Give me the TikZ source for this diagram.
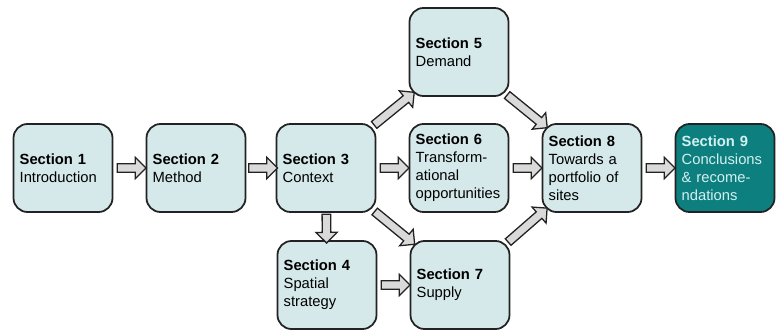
\documentclass[tikz,border=0pt]{standalone}
\usepackage{fontspec}
\setmainfont{Liberation Sans}
\usetikzlibrary{shapes.arrows}
\definecolor{boxfill}{HTML}{D5E8EA}
\definecolor{tealfill}{HTML}{0E7F7F}
\definecolor{tealtext}{HTML}{D2F0EF}
\definecolor{arrowfill}{HTML}{DADADA}
\definecolor{edge}{HTML}{222222}
\begin{document}
\begin{tikzpicture}[x=0.03cm, y=-0.03cm,
  section/.style={draw=edge, line width=1.5pt, fill=boxfill, rounded corners=0.42cm,
    minimum width=2.97cm, minimum height=2.64cm, inner xsep=0.15cm,
    text width=2.6cm, align=left, font=\fontsize{12.6}{15.3}\selectfont},
  lastsection/.style={section, fill=tealfill, text=tealtext},
  blockarrow/.style={single arrow, draw=edge, line width=1.1pt, fill=arrowfill,
    inner sep=0pt, text height=0.22cm, text depth=0pt, single arrow head extend=0.19cm,
    minimum height=0.86cm, sloped},
  longarrow/.style={blockarrow, minimum height=1.55cm}]
% Fix the page size
\useasboundingbox (0, 0) rectangle (780, 329);

% Draw the sections
\node[section] (s1) at (63, 168) {\textbf{Section 1}\\Introduction};
\node[section] (s2) at (196, 168) {\textbf{Section 2}\\Method};
\node[section] (s3) at (326, 168) {\textbf{Section 3}\\Context};
\node[section] (s4) at (327, 285) {\textbf{Section 4}\\Spatial\\strategy};
\node[section] (s5) at (459, 52) {\textbf{Section 5}\\Demand};
\node[section] (s6) at (459, 168) {\textbf{Section 6}\\Transform-\\ational\\opportunities};
\node[section] (s7) at (460, 285) {\textbf{Section 7}\\Supply};
\node[section] (s8) at (592, 168) {\textbf{Section 8}\\Towards a\\portfolio of\\sites};
\node[lastsection] (s9) at (725, 168) {\textbf{Section 9}\\Conclusions\\\& recome-\\ndations};

% Draw the arrows between the sections
\path (s1) -- node[blockarrow] {} (s2);
\path (s2) -- node[blockarrow] {} (s3);
\path (s3) -- node[blockarrow] {} (s6);
\path (s3) -- node[blockarrow] {} (s4);
\path (s4) -- node[blockarrow] {} (s7);
\path (s6) -- node[blockarrow] {} (s8);
\path (s8) -- node[blockarrow] {} (s9);
\path (s3.north east) -- node[longarrow] {} (s5.south west);
\path (s3.south east) -- node[longarrow] {} (s7.north west);
\path (s5.south east) -- node[longarrow] {} (s8.north west);
\path (s7.north east) -- node[longarrow] {} (s8.south west);
\end{tikzpicture}
\end{document}
